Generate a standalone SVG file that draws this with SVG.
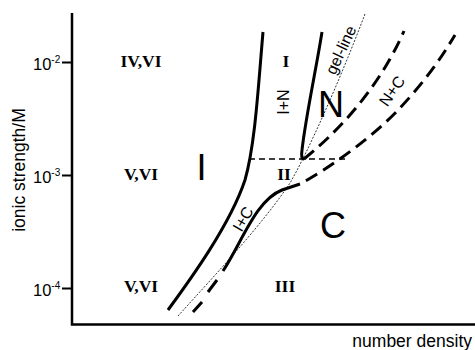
<svg xmlns="http://www.w3.org/2000/svg" width="475" height="350" viewBox="0 0 475 350">
<style>
.ax{stroke:#000;stroke-width:2.5;fill:none}
.tk{stroke:#000;stroke-width:2;fill:none}
.solid{stroke:#000;stroke-width:3;fill:none;stroke-linecap:butt}
.dash{stroke:#000;stroke-width:3;fill:none;stroke-dasharray:13,7}
.hd{stroke:#000;stroke-width:1.4;fill:none;stroke-dasharray:6,4}
.gel{stroke:#000;stroke-width:0.8;fill:none;stroke-dasharray:2,1.5}
.sans{font-family:"Liberation Sans",Arial,sans-serif;fill:#000}
.rn{font-family:"Liberation Serif","Times New Roman",serif;font-weight:bold;font-size:17.5px;fill:#000;text-anchor:middle}
.big{font-family:"Liberation Sans",Arial,sans-serif;font-size:36px;fill:#000;text-anchor:middle}
.rot{font-family:"Liberation Sans",Arial,sans-serif;font-size:16px;fill:#000;text-anchor:middle}
</style>
<rect width="475" height="350" fill="#fff"/>
<g id="axes">
<path class="ax" d="M72,13 V324.5 H475"/>
<path class="tk" d="M62,62.5 H72 M62,175.5 H72 M62,288.5 H72"/>
<text class="sans" x="33" y="70" font-size="16.5">10<tspan font-size="10" dy="-7">-2</tspan></text>
<text class="sans" x="33" y="183" font-size="16.5">10<tspan font-size="10" dy="-7">-3</tspan></text>
<text class="sans" x="33" y="296" font-size="16.5">10<tspan font-size="10" dy="-7">-4</tspan></text>
<text class="sans" x="25" y="170" font-size="17.5" text-anchor="middle" transform="rotate(-90 25 170)">ionic strength/M</text>
<text class="sans" x="472" y="347" font-size="17.5" text-anchor="end">number density</text>
</g>
<g id="connectors">
<path id="gel-line" class="gel" d="M178,316 C215,275 262,225 290,183 C308,152 340,80 365,14"/>
<path id="I-boundary" class="solid" d="M168,310 C190,280 230,225 245,180 C255,145 258,90 263,32"/>
<path id="N-boundary" class="solid" d="M322,32 C316,70 306,115 302,150 C301,157 302,159 304,159"/>
<path id="N-NC-boundary" class="dash" d="M304,159 C330,138 376,95 404,31"/>
<path id="IC-boundary" class="solid" d="M223,271 C242,242 256,200 282,190 L300,184"/>
<path id="NC-C-boundary" class="dash" style="stroke-dashoffset:13" d="M300,184 C330,168 375,135 400,108 S440,60 455,35"/>
<path id="IC-lower" class="solid" d="M217,280 L208,292 M202,302 L193,312"/>
<path id="II-line" class="hd" d="M249,159 H346"/>
</g>
<g id="region-IV-VI"><text class="rn" x="141" y="67">IV,VI</text></g>
<g id="region-V-VI-mid"><text class="rn" x="141" y="180">V,VI</text></g>
<g id="region-V-VI-low"><text class="rn" x="141" y="292">V,VI</text></g>
<g id="region-I-roman"><text class="rn" x="286" y="67">I</text></g>
<g id="region-II"><text class="rn" x="284" y="180">II</text></g>
<g id="region-III"><text class="rn" x="285" y="292">III</text></g>
<g id="phase-I"><text class="big" x="201.5" y="180">I</text></g>
<g id="phase-N"><text class="big" x="331" y="117" font-size="35">N</text></g>
<g id="phase-C"><text class="big" x="333" y="238">C</text></g>
<g id="label-IN"><text class="rot" font-size="17" transform="translate(283,102) rotate(-90)" dy="6">I+N</text></g>
<g id="label-gel"><text class="rot" transform="translate(341,50) rotate(-65)" dy="5.5">gel-line</text></g>
<g id="label-NC"><text class="rot" transform="translate(392,91) rotate(-55)" dy="5.5">N+C</text></g>
<g id="label-IC"><text class="rot" transform="translate(243,219) rotate(-60)" dy="5.5">I+C</text></g>
</svg>
